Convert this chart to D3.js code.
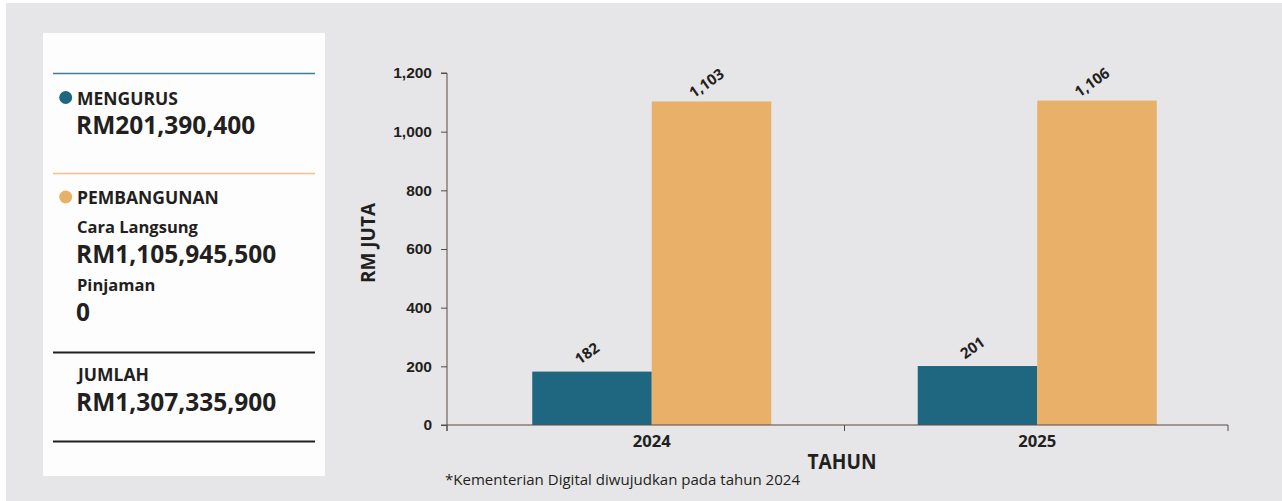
<!DOCTYPE html>
<html>
<head>
<meta charset="utf-8">
<script src="https://cdn.jsdelivr.net/npm/d3@7"></script>
<style>
  html, body { margin: 0; padding: 0; background: #ffffff; }
  svg { display: block; }
</style>
</head>
<body>
<div id="chart"></div>
<script>
// Data
const years = ["2024", "2025"];
const seriesNames = ["MENGURUS", "PEMBANGUNAN"];
const mengurus = [182, 201];
const pembangunan = [1103, 1106];
const yTicks = [0, 200, 400, 600, 800, 1000, 1200];

const colors = { MENGURUS: "#1f6680", PEMBANGUNAN: "#e8b068" };

const W = 1282, H = 501;

const svg = d3.select("#chart").append("svg")
  .attr("width", W)
  .attr("height", H);

// page background
svg.append("rect")
  .attr("x", 6).attr("y", 3)
  .attr("width", W - 6).attr("height", H - 3)
  .attr("fill", "#e6e6e8");

// ---------- left info panel ----------
const panel = svg.append("g");
panel.append("rect")
  .attr("x", 43).attr("y", 33)
  .attr("width", 282).attr("height", 443)
  .attr("fill", "#fdfdfd");

const rule = (y, color, w) => panel.append("line")
  .attr("x1", 53).attr("x2", 315)
  .attr("y1", y).attr("y2", y)
  .attr("stroke", color).attr("stroke-width", w);

const ptext = (x, y, size, weight, txt) => panel.append("text")
  .attr("x", x).attr("y", y)
  .attr("font-family", "'Open Sans', 'Noto Sans', sans-serif")
  .attr("font-size", size)
  .attr("font-weight", weight)
  .attr("fill", "#231f20")
  .text(txt);

rule(73.5, "#3d7ea3", 1.5);
panel.append("circle").attr("cx", 65.7).attr("cy", 97.5).attr("r", 6.5).attr("fill", colors.MENGURUS);
ptext(77, 104.5, 17.5, 700, "MENGURUS");
ptext(76, 133.5, 24.5, 700, "RM201,390,400");

rule(173.5, "#f1c08c", 1.5);
panel.append("circle").attr("cx", 65.7).attr("cy", 197).attr("r", 6.5).attr("fill", colors.PEMBANGUNAN);
ptext(77, 204, 17.5, 700, "PEMBANGUNAN");
ptext(77, 233, 16.5, 700, "Cara Langsung");
ptext(76, 262.5, 24.5, 700, "RM1,105,945,500");
ptext(77, 290.5, 16.5, 700, "Pinjaman");
ptext(76, 320.5, 24.5, 700, "0");

rule(352.5, "#231f20", 2);
ptext(78, 381, 17.5, 700, "JUMLAH");
ptext(76, 411, 24.5, 700, "RM1,307,335,900");
rule(441.5, "#231f20", 2);

// ---------- bar chart ----------
const axisLeftX = 447, axisRightX = 1228;
const y0 = 425, yTop = 73;

const y = d3.scaleLinear().domain([0, 1200]).range([y0, yTop]);

const x0 = d3.scaleBand()
  .domain(years)
  .range([459, 1230])
  .paddingInner(0.38)
  .paddingOuter(0.19);

const x1 = d3.scaleBand()
  .domain(seriesNames)
  .range([0, x0.bandwidth()]);

const data = years.map((yr, i) => ({
  year: yr,
  values: [
    { key: "MENGURUS", value: mengurus[i] },
    { key: "PEMBANGUNAN", value: pembangunan[i] }
  ]
}));

const chart = svg.append("g");

// bars
const groups = chart.selectAll(".grp")
  .data(data)
  .enter().append("g")
  .attr("class", "grp")
  .attr("transform", d => `translate(${x0(d.year)},0)`);

groups.selectAll("rect")
  .data(d => d.values)
  .enter().append("rect")
  .attr("x", d => x1(d.key))
  .attr("y", d => y(d.value))
  .attr("width", x1.bandwidth())
  .attr("height", d => y0 - y(d.value))
  .attr("fill", d => colors[d.key]);

// value labels, rotated
groups.selectAll(".val")
  .data(d => d.values)
  .enter().append("text")
  .attr("class", "val")
  .attr("transform", d => `translate(${x1(d.key) + x1.bandwidth() / 2 - 2},${y(d.value) - 14}) rotate(-35)`)
  .attr("text-anchor", "middle")
  .attr("font-family", "'Open Sans', sans-serif")
  .attr("font-size", 15)
  .attr("font-weight", 700)
  .attr("fill", "#231f20")
  .text(d => d3.format(",")(d.value));

// y axis
const yAxis = chart.append("g")
  .attr("transform", `translate(${axisLeftX},0)`)
  .call(d3.axisLeft(y).tickValues(yTicks).tickFormat(d3.format(",")).tickSize(6).tickPadding(9));
yAxis.select(".domain").attr("stroke", "#5a4a42").attr("d", `M-6,${yTop}H0V${y0 + 6}`);
yAxis.selectAll(".tick line").attr("stroke", "#5a4a42");
yAxis.selectAll(".tick text")
  .attr("font-family", "'Liberation Sans', Arial, sans-serif")
  .attr("font-size", 15.5)
  .attr("font-weight", 700)
  .attr("fill", "#231f20");

// x axis line + tick marks at band boundaries
chart.append("line")
  .attr("x1", axisLeftX - 6).attr("x2", axisRightX)
  .attr("y1", y0).attr("y2", y0)
  .attr("stroke", "#5a4a42").attr("stroke-width", 1);

const tickXs = [axisLeftX, x0(years[1]) - x0.step() * x0.paddingInner() / 2, axisRightX];
chart.selectAll(".xtick")
  .data(tickXs)
  .enter().append("line")
  .attr("class", "xtick")
  .attr("x1", d => d).attr("x2", d => d)
  .attr("y1", y0).attr("y2", y0 + 6)
  .attr("stroke", "#5a4a42");

chart.selectAll(".xlab")
  .data(years)
  .enter().append("text")
  .attr("class", "xlab")
  .attr("x", d => x0(d) + x0.bandwidth() / 2)
  .attr("y", 447)
  .attr("text-anchor", "middle")
  .attr("font-family", "'Open Sans', sans-serif")
  .attr("font-size", 16)
  .attr("font-weight", 700)
  .attr("fill", "#231f20")
  .attr("textLength", 38)
  .attr("lengthAdjust", "spacingAndGlyphs")
  .text(d => d);

// axis titles
chart.append("text")
  .attr("transform", `translate(375,243) rotate(-90)`)
  .attr("text-anchor", "middle")
  .attr("font-family", "'Open Sans', sans-serif")
  .attr("font-size", 20)
  .attr("font-weight", 700)
  .attr("fill", "#231f20")
  .attr("textLength", 80)
  .attr("lengthAdjust", "spacingAndGlyphs")
  .text("RM JUTA");

chart.append("text")
  .attr("x", 842)
  .attr("y", 469)
  .attr("text-anchor", "middle")
  .attr("font-family", "'Open Sans', sans-serif")
  .attr("font-size", 22)
  .attr("font-weight", 700)
  .attr("fill", "#231f20")
  .attr("textLength", 69)
  .attr("lengthAdjust", "spacingAndGlyphs")
  .text("TAHUN");

// footnote
chart.append("text")
  .attr("x", 445)
  .attr("y", 485)
  .attr("font-family", "'Open Sans', sans-serif")
  .attr("font-size", 15)
  .attr("font-weight", 400)
  .attr("fill", "#231f20")
  .attr("textLength", 355)
  .attr("lengthAdjust", "spacingAndGlyphs")
  .text("*Kementerian Digital diwujudkan pada tahun 2024");
</script>
</body>
</html>
